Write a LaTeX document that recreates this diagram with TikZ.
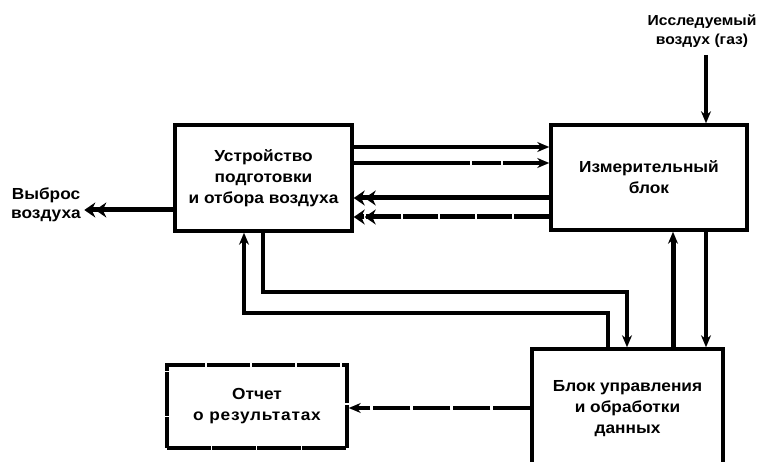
\documentclass[tikz,border=0pt]{standalone}
\usepackage{fontspec}
\setmainfont{Liberation Sans}[FakeStretch=1.08]
\usetikzlibrary{arrows.meta,positioning}

\tikzset{
  block/.style={draw, line width=3.5pt, align=center, inner sep=0pt,
    font=\bfseries\fontsize{16}{21}\selectfont},
  tag/.style={align=center, font=\bfseries\fontsize{16}{19}\selectfont},
  link/.style={line width=3.2pt, -{Stealth[length=12pt,width=10pt]}},
  heavylink/.style={line width=5pt,
    -{Stealth[length=11pt,width=15pt] Stealth[length=11pt,width=15pt]}}
}

\begin{document}
\begin{tikzpicture}[x=1pt, y=-1pt]
    \clip (0,0) rectangle (768,462);

    % Blocks
    \node[block, minimum width=177pt, minimum height=106pt] (prep) at (263.5,178) {Устройство\\подготовки\\и отбора воздуха};
    \node[block, minimum width=196pt, minimum height=105pt] (meas) at (649,177.5) {Измерительный\\блок};
    \node[block, minimum width=191pt, minimum height=120pt] (ctrl) at (627.5,409) {Блок управления\\и обработки\\данных};
    \node[block, dash pattern=on 43.5pt off 1.5pt, minimum width=180pt, minimum height=83pt] (report) at (257,406.5) {Отчет\\{\addfontfeature{LetterSpace=5}о результатах}};

    % Free labels
    \node[tag, font=\bfseries\fontsize{14.5}{19}\selectfont] (gas) at (702,31) {Исследуемый\\воздух (газ)};
    \node[tag] (exhaust) at (46,205) {Выброс\\воздуха};
    \coordinate (gasin) at (706,55);

    % Gas in and air out
    \draw[link] (gasin) -- (meas.north -| gasin);
    \draw[heavylink] (prep.west |- 0,210) -- (exhaust.east |- 0,210);

    % Between preparation and measuring blocks
    \draw[link] (prep.east |- 0,147) -- (meas.west |- 0,147);
    \draw[link, dash pattern=on 116pt off 2pt on 29pt off 2pt on 300pt] (prep.east |- 0,163) -- (meas.west |- 0,163);
    \draw[heavylink] (meas.west |- 0,198) -- (prep.east |- 0,198);
    \draw[heavylink, dash pattern=on 35pt off 2pt] (meas.west |- 0,217) -- (prep.east |- 0,217);

    % Control lines
    \draw[link] (ctrl.north -| 608,0) |- (244,313) -- (prep.south -| 244,0);
    \draw[link] (prep.south -| 263,0) |- (627,292) -- (ctrl.north -| 627,0);
    \draw[link, line width=5pt] (ctrl.north -| 673,0) -- (meas.south -| 673,0);
    \draw[link] (meas.south -| 706,0) -- (ctrl.north -| 706,0);

    % Report
    \draw[link, dash pattern=on 37pt off 3pt] (ctrl.west |- 0,408) -- (report.east |- 0,408);
\end{tikzpicture}
\end{document}
